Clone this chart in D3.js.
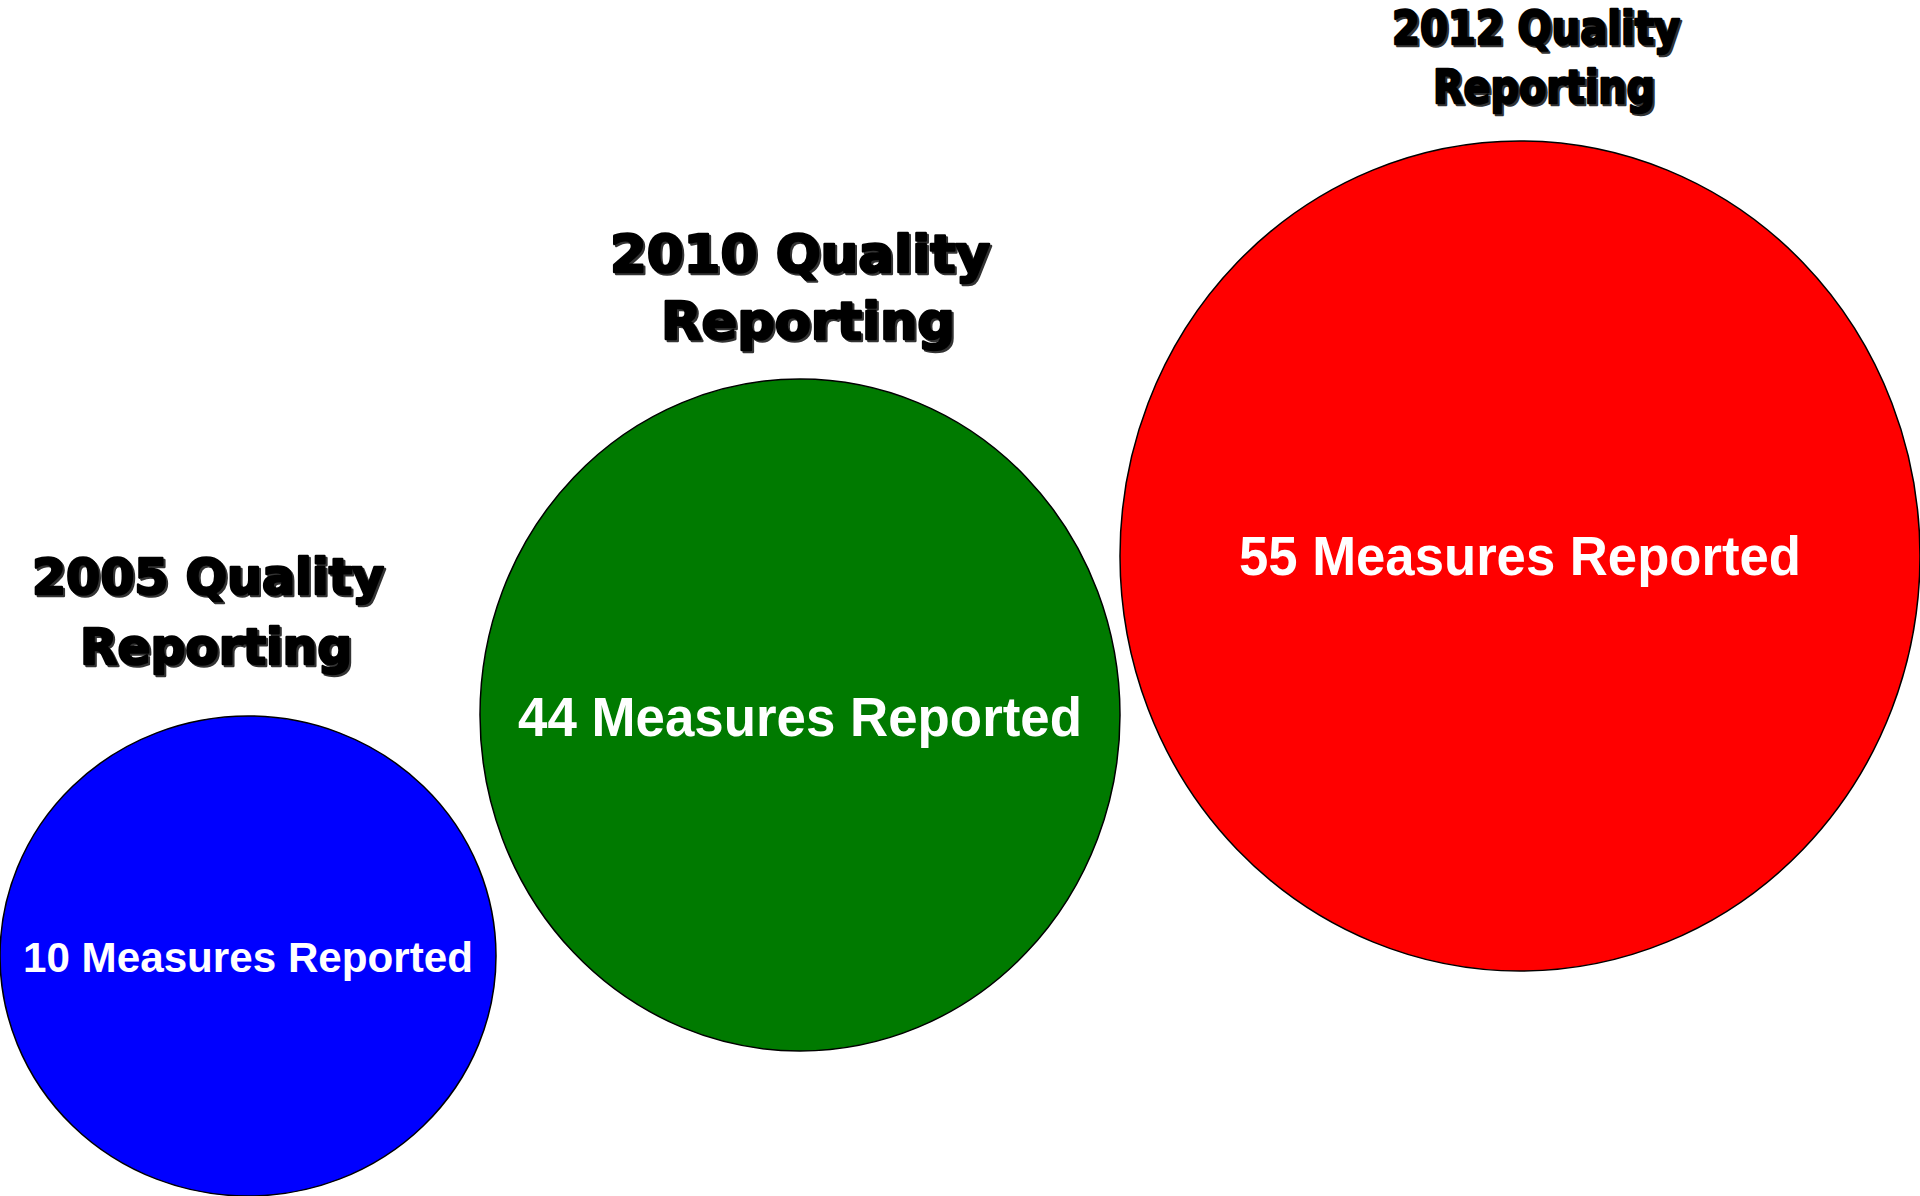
<!DOCTYPE html>
<html>
<head>
<meta charset="utf-8">
<script src="https://cdn.jsdelivr.net/npm/d3@7"></script>
<style>
  html, body { margin: 0; padding: 0; background: #fff; }
  svg { display: block; }
</style>
</head>
<body>
<div id="chart"></div>
<script>
var years = [2005, 2010, 2012]
var measures = [10, 44, 55]
var colors = ['#0000ff', '#007a00', '#ff0000']

var w = 1920
  , h = 1196

// layout of the bubbles (the original is a hand-placed diagram)
var cx = d3.scaleOrdinal().domain(years).range([248, 800, 1520])
  , cy = d3.scaleOrdinal().domain(years).range([956, 715, 556])
  , rx = d3.scaleOrdinal().domain(years).range([248, 320, 400])
  , ry = d3.scaleOrdinal().domain(years).range([240, 336, 415])
  , fill = d3.scaleOrdinal().domain(years).range(colors)

// title and label placement
var titleX = d3.scaleOrdinal().domain(years).range([208, 800, 1536])
  , titleY = d3.scaleOrdinal().domain(years).range([594, 272, 44])
  , titleGap = d3.scaleOrdinal().domain(years).range([70, 67, 59])
  , titleW1 = d3.scaleOrdinal().domain(years).range([352, 380, 288])
  , titleW2 = d3.scaleOrdinal().domain(years).range([272, 294, 222])
  , titleSize = d3.scaleOrdinal().domain(years).range([50, 52, 46])
  , labelY = d3.scaleOrdinal().domain(years).range([972, 736, 575])
  , labelW = d3.scaleOrdinal().domain(years).range([450, 564, 562])
  , labelSize = d3.scaleOrdinal().domain(years).range([42, 56, 56])

var data = years.map(function (y, i) {
  return { year: y, value: measures[i] }
})

var svg = d3.select('#chart').append('svg').attr('width', w).attr('height', h)

var g = svg.selectAll('g.bubble').data(data)
           .enter().append('g')
           .attr('class', 'bubble')

g.append('ellipse')
  .attr('cx', function (d) { return cx(d.year) })
  .attr('cy', function (d) { return cy(d.year) })
  .attr('rx', function (d) { return rx(d.year) })
  .attr('ry', function (d) { return ry(d.year) })
  .attr('fill', function (d) { return fill(d.year) })
  .attr('stroke', '#000')
  .attr('stroke-width', 1.5)

g.append('text')
  .attr('x', function (d) { return cx(d.year) })
  .attr('y', function (d) { return labelY(d.year) })
  .attr('text-anchor', 'middle')
  .attr('textLength', function (d) { return labelW(d.year) })
  .attr('lengthAdjust', 'spacingAndGlyphs')
  .attr('font-family', 'Liberation Sans, Arial, sans-serif')
  .attr('font-weight', 'bold')
  .attr('font-size', function (d) { return labelSize(d.year) })
  .attr('fill', '#fff')
  .text(function (d) { return d.value + ' Measures Reported' })

function title (sel, dx, dy, col) {
  var lines = [function (d) { return d.year + ' Quality' }, function () { return 'Reporting' }]
  lines.forEach(function (fn, k) {
    sel.append('text')
      .attr('x', function (d) { return titleX(d.year) + k * 8 + dx })
      .attr('y', function (d) { return titleY(d.year) + k * titleGap(d.year) + dy })
      .attr('text-anchor', 'middle')
      .attr('textLength', function (d) { return k ? titleW2(d.year) : titleW1(d.year) })
      .attr('lengthAdjust', 'spacingAndGlyphs')
      .attr('font-family', 'DejaVu Sans, Arial Black, sans-serif')
      .attr('font-weight', 'bold')
      .attr('font-size', function (d) { return titleSize(d.year) })
      .attr('fill', col)
      .attr('stroke', col)
      .attr('stroke-width', 2.5)
      .attr('stroke-linejoin', 'round')
      .text(fn)
  })
}

title(g, 2, 2, '#333')
title(g, 0, 0, '#000')
</script>
</body>
</html>
